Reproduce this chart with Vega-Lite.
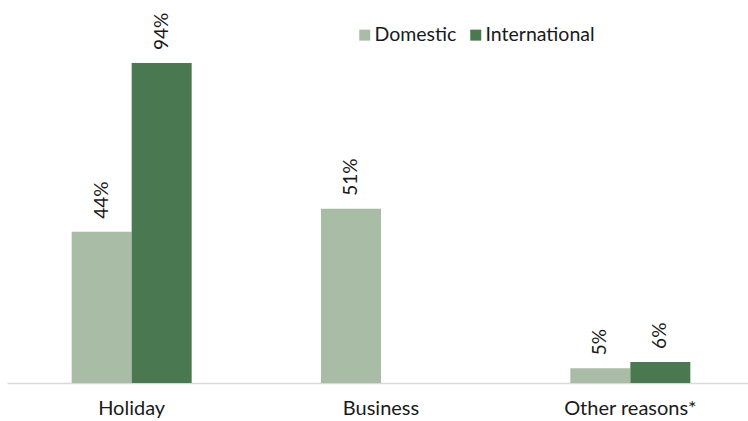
{
  "$schema": "https://vega.github.io/schema/vega-lite/v6.json",
  "width": 748,
  "height": 383,
  "autosize": "none",
  "padding": {"left": 7, "top": 0, "right": 0, "bottom": 38},
  "config": {
    "view": {"stroke": null},
    "font": "Lato",
    "text": {"font": "Lato"}
  },
  "data": {
    "values": [
      {"reason": "Holiday", "type": "Domestic", "value": 44.4, "label": "44%"},
      {"reason": "Holiday", "type": "International", "value": 94, "label": "94%"},
      {"reason": "Business", "type": "Domestic", "value": 51.2, "label": "51%"},
      {"reason": "Other reasons*", "type": "Domestic", "value": 4.3, "label": "5%"},
      {"reason": "Other reasons*", "type": "International", "value": 6.2, "label": "6%"}
    ]
  },
  "encoding": {
    "x": {
      "field": "reason",
      "type": "nominal",
      "sort": ["Holiday", "Business", "Other reasons*"],
      "scale": {"domain": ["Holiday", "Business", "Other reasons*"], "paddingInner": 0, "paddingOuter": 0},
      "axis": {
        "title": null,
        "labelAngle": 0,
        "ticks": false,
        "labelFontSize": 20,
        "labelColor": "#1a1a1a",
        "labelPadding": 15,
        "domainColor": "#d9d9d9",
        "domainWidth": 1.5
      }
    },
    "y": {
      "field": "value",
      "type": "quantitative",
      "scale": {"domain": [0, 112.5], "nice": false, "zero": true},
      "axis": null
    },
    "color": {
      "field": "type",
      "type": "nominal",
      "scale": {"domain": ["Domestic", "International"], "range": ["#a8bca6", "#4a7850"]},
      "legend": {
        "title": null,
        "orient": "none",
        "direction": "horizontal",
        "legendX": 348,
        "legendY": 25,
        "symbolType": "square",
        "symbolSize": 121,
        "symbolStrokeWidth": 0,
        "labelFontSize": 19.5,
        "labelColor": "#1a1a1a",
        "labelOffset": 0,
        "columnPadding": 9
      }
    }
  },
  "layer": [
    {
      "transform": [{"filter": "datum.type === 'Domestic'"}],
      "mark": {"type": "bar", "width": 60, "xOffset": -30}
    },
    {
      "transform": [{"filter": "datum.type === 'International'"}],
      "mark": {"type": "bar", "width": 60, "xOffset": 30}
    },
    {
      "transform": [{"filter": "datum.type === 'Domestic'"}],
      "mark": {"type": "text", "angle": 270, "align": "left", "baseline": "middle", "dx": 13, "xOffset": -30, "fontSize": 19, "color": "#1a1a1a"},
      "encoding": {
        "text": {"field": "label"},
        "color": {"value": "#1a1a1a"}
      }
    },
    {
      "transform": [{"filter": "datum.type === 'International'"}],
      "mark": {"type": "text", "angle": 270, "align": "left", "baseline": "middle", "dx": 13, "xOffset": 30, "fontSize": 19, "color": "#1a1a1a"},
      "encoding": {
        "text": {"field": "label"},
        "color": {"value": "#1a1a1a"}
      }
    }
  ]
}
